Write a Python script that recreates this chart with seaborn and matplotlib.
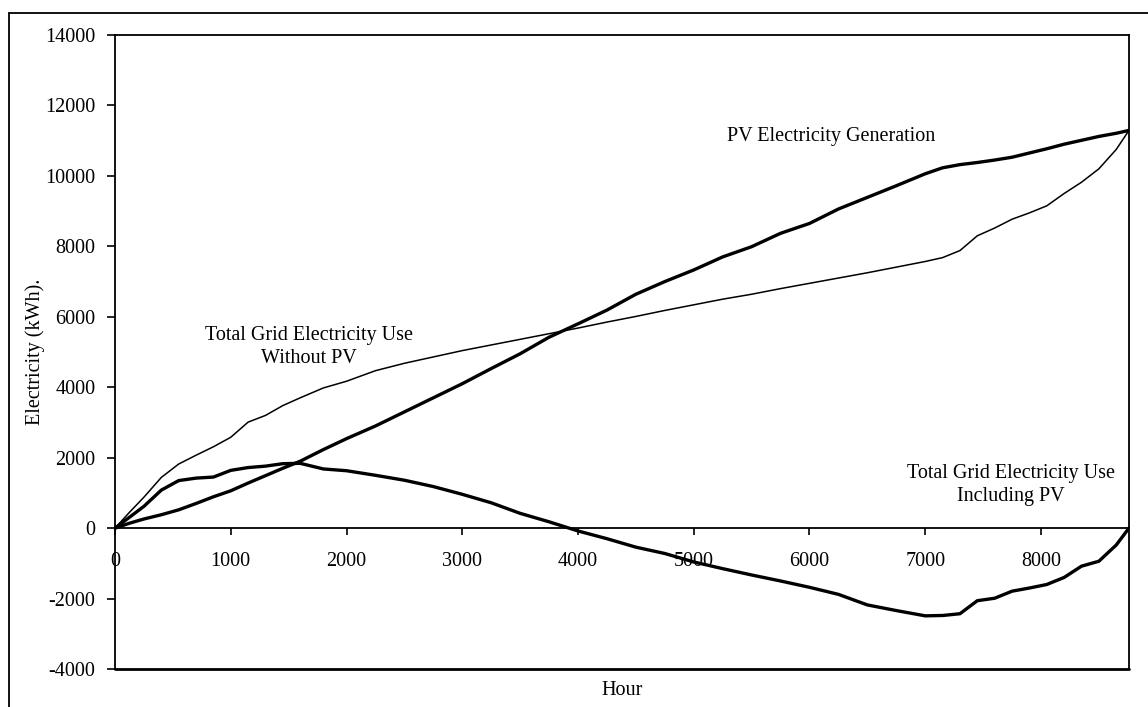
import matplotlib
matplotlib.use("Agg")
import matplotlib.pyplot as plt
from matplotlib.lines import Line2D
import seaborn as sns
import pandas as pd

# ---- data ----
hours = [0, 125, 250, 400, 550, 700, 850, 1000, 1150, 1300, 1450, 1600, 1800, 2000,
         2250, 2500, 2750, 3000, 3250, 3500, 3750, 4000, 4250, 4500, 4750, 5000,
         5250, 5500, 5750, 6000, 6250, 6500, 6750, 7000, 7150, 7300, 7450, 7600,
         7750, 7900, 8050, 8200, 8350, 8500, 8650, 8760]

grid_without_pv = [0, 450, 880, 1440, 1820, 2070, 2310, 2580, 3010, 3200, 3480, 3700,
                   3980, 4170, 4470, 4680, 4860, 5040, 5200, 5360, 5520, 5680, 5850,
                   6010, 6180, 6340, 6500, 6640, 6800, 6950, 7100, 7250, 7410, 7570,
                   7680, 7880, 8300, 8520, 8770, 8950, 9150, 9500, 9820, 10200, 10750,
                   11290]

pv_generation = [0, 140, 260, 380, 520, 700, 890, 1060, 1280, 1490, 1700, 1900, 2230,
                 2540, 2900, 3300, 3700, 4100, 4530, 4950, 5420, 5800, 6190, 6640, 7000,
                 7330, 7700, 7990, 8370, 8650, 9060, 9390, 9720, 10060, 10230, 10320,
                 10380, 10450, 10530, 10650, 10770, 10900, 11010, 11120, 11210, 11290]

grid_including_pv = [0, 310, 620, 1080, 1350, 1420, 1450, 1640, 1720, 1760, 1830, 1840,
                     1680, 1630, 1500, 1360, 1180, 960, 720, 420, 180, -80, -300, -540,
                     -720, -960, -1150, -1330, -1500, -1680, -1880, -2180, -2340, -2490,
                     -2480, -2430, -2060, -1990, -1790, -1700, -1600, -1400, -1080, -940,
                     -480, 0]

x_ticks = [0, 1000, 2000, 3000, 4000, 5000, 6000, 7000, 8000]
y_ticks = [-4000, -2000, 0, 2000, 4000, 6000, 8000, 10000, 12000, 14000]

label_pv = "PV Electricity Generation"
label_without = "Total Grid Electricity Use\nWithout PV"
label_including = "Total Grid Electricity Use\nIncluding PV"

df = pd.DataFrame({"Hour": hours,
                   "without": grid_without_pv,
                   "pv": pv_generation,
                   "including": grid_including_pv})

# ---- style ----
sns.set_theme(style="ticks")
plt.rcParams["font.family"] = ["Liberation Serif", "DejaVu Serif"]
plt.rcParams["axes.unicode_minus"] = False
plt.rcParams["text.color"] = "black"
plt.rcParams["axes.labelcolor"] = "black"
plt.rcParams["xtick.color"] = "black"
plt.rcParams["ytick.color"] = "black"
FS = 14.5

fig = plt.figure(figsize=(11.48, 7.07), dpi=100)
ax = fig.add_axes([0.1002, 0.0537, 0.8832, 0.8968])

sns.lineplot(data=df, x="Hour", y="without", ax=ax, color="black", lw=1.1, estimator=None)
sns.lineplot(data=df, x="Hour", y="pv", ax=ax, color="black", lw=2.4, estimator=None)
sns.lineplot(data=df, x="Hour", y="including", ax=ax, color="black", lw=2.4, estimator=None)

for s in ax.spines.values():
    s.set_color("black")
    s.set_linewidth(1.3)
ax.spines["bottom"].set_position(("data", 0))
ax.axhline(-4000, color="black", lw=2.0, clip_on=False)

ax.set_xlim(0, 8760)
ax.set_ylim(-4000, 14000)
ax.set_xticks(x_ticks)
ax.set_yticks(y_ticks)
ax.set_xticklabels([str(v) for v in x_ticks])
ax.set_yticklabels([str(v) for v in y_ticks])

ax.tick_params(axis="y", direction="out", length=6, width=1.2, pad=8,
               colors="black", labelsize=FS)
ax.tick_params(axis="x", direction="out", length=5, width=1.2, pad=12,
               colors="black", labelsize=FS)

ax.set_xlabel("Hour", fontsize=FS, color="black")
ax.set_ylabel("Electricity (kWh).", fontsize=FS, color="black")
ax.xaxis.set_label_coords(0.5, -0.019)
ax.yaxis.set_label_coords(-0.069, 0.5)

ax.text(6186, 11120, label_pv, fontsize=FS, ha="center", va="center", color="black")
ax.text(1676, 5149, label_without, fontsize=FS, ha="center", va="center",
        linespacing=1.3, color="black")
ax.text(7741, 1220, label_including, fontsize=FS, ha="center", va="center",
        linespacing=1.3, color="black")

# outer frame of the figure (cut at right and bottom)
fx0 = 9 / 1148
fy1 = 1 - 13 / 707
fig.add_artist(Line2D([fx0, 1.0], [fy1, fy1], transform=fig.transFigure, color="black", lw=1.3))
fig.add_artist(Line2D([fx0, fx0], [0.0, fy1], transform=fig.transFigure, color="black", lw=1.3))

fig.savefig("out.png", dpi=100)
